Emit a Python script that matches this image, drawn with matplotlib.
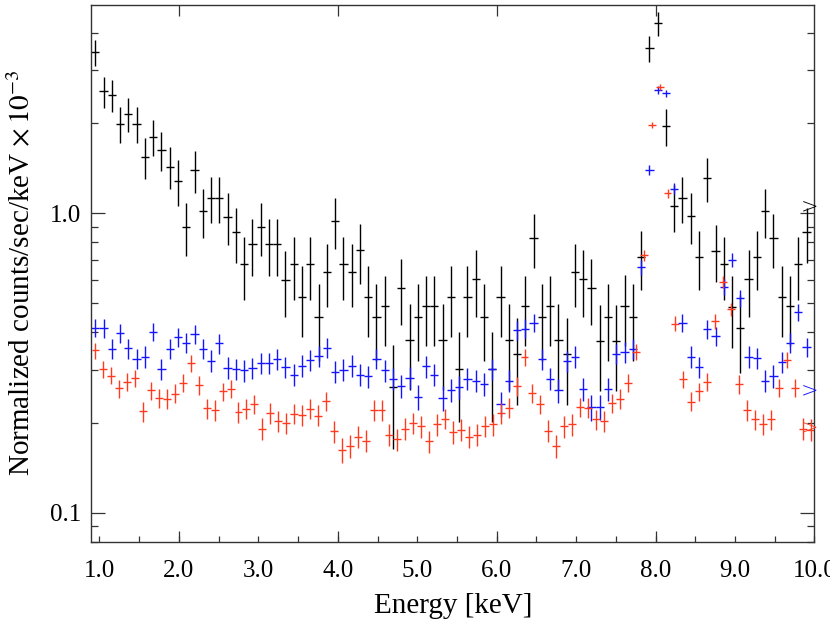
import numpy as np
import matplotlib
matplotlib.use("Agg")
import matplotlib.pyplot as plt
from matplotlib.ticker import FixedLocator, NullFormatter, LogLocator

plt.rcParams['font.family'] = ['Liberation Serif', 'DejaVu Serif']
plt.rcParams['mathtext.fontset'] = 'stix'

# ---------------- data ----------------
# black / blue spectra share one energy grid, red has its own (0.1 keV bins)
bb_start, bb_step = 0.947, 0.1041
red_start, red_step = 0.95, 0.100

black_vals = [3.45, 2.55, 2.48, 1.99, 2.14, 1.99, 1.54, 1.80, 1.62, 1.43, 1.28, 0.90, 1.39, 1.015, 1.125,
              1.125, 0.975, 0.864, 0.675, 0.788, 0.90, 0.788, 0.788, 0.600, 0.675, 0.525, 0.675, 0.45, 0.638,
              0.940, 0.675, 0.638, 0.752, 0.526, 0.451, 0.489, 0.263, 0.564, 0.376, 0.451, 0.489, 0.489, 0.376, 0.526,
              0.301, 0.526, 0.601, 0.451, 0.301, 0.526, 0.376, 0.338, 0.489, 0.827, 0.451, 0.489, 0.376, 0.338,
              0.638, 0.601, 0.564, 0.375, 0.451, 0.375, 0.490, 0.451, 0.713, 3.56, 4.31, 1.95, 1.053, 1.125, 0.977,
              0.714, 1.312, 0.750, 0.675, 0.486, 0.4125, 0.601, 0.714, 1.015, 0.827, 0.525, 0.489, 0.675, 0.864]
black_err = [0.35, 0.30, 0.30, 0.27, 0.28, 0.27, 0.24, 0.25, 0.24, 0.23, 0.22, 0.18, 0.22, 0.19, 0.20,
             0.20, 0.19, 0.18, 0.16, 0.17, 0.18, 0.17, 0.17, 0.15, 0.16, 0.14, 0.16, 0.13, 0.15,
             0.18, 0.16, 0.15, 0.17, 0.14, 0.13, 0.13, 0.10, 0.14, 0.12, 0.13, 0.13, 0.13, 0.12, 0.14,
             0.10, 0.14, 0.15, 0.13, 0.10, 0.14, 0.12, 0.11, 0.13, 0.17, 0.13, 0.13, 0.12, 0.11,
             0.15, 0.15, 0.14, 0.12, 0.13, 0.12, 0.13, 0.13, 0.16, 0.36, 0.39, 0.27, 0.19, 0.20, 0.19,
             0.16, 0.22, 0.16, 0.16, 0.13, 0.12, 0.15, 0.16, 0.19, 0.17, 0.14, 0.13, 0.16, 0.18]

blue_vals = [0.415, 0.413, 0.352, 0.399, 0.354, 0.327, 0.332, 0.402, 0.302, 0.352, 0.386, 0.370, 0.394, 0.352, 0.322,
             0.368, 0.305, 0.302, 0.299, 0.304, 0.316, 0.316, 0.326, 0.306, 0.289, 0.310, 0.323, 0.334, 0.356,
             0.296, 0.300, 0.310, 0.289, 0.285, 0.327, 0.299, 0.280, 0.265, 0.282, 0.244, 0.308, 0.289, 0.242, 0.257,
             0.263, 0.280, 0.276, 0.269, 0.302, 0.231, 0.276, 0.406, 0.412, 0.431, 0.325, 0.280, 0.256, 0.321,
             0.332, 0.259, 0.225, 0.226, 0.259, 0.340, 0.344, 0.353, 0.661, 1.393, 2.578, 2.513, 1.209, 0.430, 0.332,
             0.306, 0.410, 0.389, 0.567, 0.697, 0.521, 0.332, 0.328, 0.276, 0.286, 0.319, 0.369, 0.468, 0.357]
blue_err = [0.030, 0.030, 0.027, 0.029, 0.027, 0.026, 0.027, 0.029, 0.025, 0.027, 0.029, 0.028, 0.029, 0.027, 0.026,
            0.028, 0.025, 0.025, 0.025, 0.025, 0.026, 0.026, 0.026, 0.025, 0.025, 0.026, 0.026, 0.027, 0.027,
            0.025, 0.025, 0.026, 0.025, 0.025, 0.026, 0.025, 0.024, 0.024, 0.024, 0.023, 0.026, 0.025, 0.023, 0.023,
            0.024, 0.024, 0.024, 0.024, 0.025, 0.022, 0.024, 0.029, 0.030, 0.030, 0.026, 0.024, 0.023, 0.026,
            0.027, 0.023, 0.022, 0.022, 0.023, 0.027, 0.027, 0.027, 0.037, 0.054, 0.074, 0.073, 0.050, 0.030, 0.027,
            0.025, 0.029, 0.029, 0.035, 0.038, 0.033, 0.027, 0.026, 0.024, 0.025, 0.026, 0.028, 0.031, 0.027]

red_vals = [0.348, 0.301, 0.287, 0.260, 0.274, 0.281, 0.218, 0.256, 0.241, 0.240, 0.250, 0.272, 0.316, 0.267, 0.223,
            0.220, 0.254, 0.259, 0.217, 0.222, 0.231, 0.191, 0.215, 0.202, 0.199, 0.214, 0.212, 0.222, 0.211, 0.236,
            0.187, 0.162, 0.167, 0.179, 0.174, 0.220, 0.220, 0.182, 0.176, 0.191, 0.199, 0.194, 0.173, 0.197, 0.206,
            0.186, 0.189, 0.179, 0.182, 0.195, 0.197, 0.215, 0.224, 0.265, 0.331, 0.251, 0.231, 0.188, 0.167, 0.194,
            0.197, 0.225, 0.224, 0.205, 0.202, 0.233, 0.240, 0.271, 0.344, 0.724, 1.974, 2.633, 1.164, 0.428, 0.279, 0.235,
            0.254, 0.274, 0.435, 0.589, 0.478, 0.269, 0.220, 0.205, 0.198, 0.205, 0.261, 0.324, 0.261, 0.191, 0.189]
red_err = [0.021, 0.020, 0.019, 0.018, 0.019, 0.019, 0.017, 0.018, 0.018, 0.018, 0.018, 0.019, 0.020, 0.019, 0.017,
           0.017, 0.018, 0.018, 0.017, 0.017, 0.017, 0.016, 0.017, 0.016, 0.016, 0.017, 0.017, 0.017, 0.017, 0.017,
           0.016, 0.015, 0.015, 0.015, 0.015, 0.017, 0.017, 0.015, 0.015, 0.016, 0.016, 0.016, 0.015, 0.016, 0.016,
           0.016, 0.016, 0.015, 0.015, 0.016, 0.016, 0.017, 0.017, 0.019, 0.021, 0.018, 0.017, 0.016, 0.015, 0.016,
           0.016, 0.017, 0.017, 0.016, 0.016, 0.017, 0.018, 0.019, 0.021, 0.031, 0.050, 0.058, 0.039, 0.024, 0.019, 0.017,
           0.018, 0.019, 0.024, 0.028, 0.025, 0.019, 0.017, 0.016, 0.016, 0.016, 0.018, 0.020, 0.018, 0.016, 0.016]

# off-scale arrows at the right edge
arrow_x = 9.935
arrow_vals = [1.045, 0.255, 0.191]

x_tick_vals = [1.0, 2.0, 3.0, 4.0, 5.0, 6.0, 7.0, 8.0, 9.0, 10.0]
x_tick_labels = ['1.0', '2.0', '3.0', '4.0', '5.0', '6.0', '7.0', '8.0', '9.0', '10.0']
x_long_ticks = [2.0, 4.0, 6.0, 8.0]
y_tick_vals = [0.1, 1.0]
y_tick_labels = ['0.1', '1.0']

BLACK = '#000000'
BLUE = '#1414ff'
RED = '#ff3a1e'

# ---------------- figure ----------------
fig = plt.figure(figsize=(8.3, 6.23), dpi=100)
ax = fig.add_axes([0.1096, 0.1305, 0.8717, 0.862])

e_bb = bb_start + bb_step * np.arange(len(black_vals))
e_red = red_start + red_step * np.arange(len(red_vals))

ax.errorbar(e_bb, black_vals, yerr=black_err, xerr=bb_step / 2, fmt='none',
            ecolor=BLACK, elinewidth=1.0, capsize=0)
ax.errorbar(e_bb, blue_vals, yerr=blue_err, xerr=bb_step / 2, fmt='none',
            ecolor=BLUE, elinewidth=1.0, capsize=0)
ax.errorbar(e_red, red_vals, yerr=red_err, xerr=red_step / 2, fmt='none',
            ecolor=RED, elinewidth=1.0, capsize=0)

for v, c in zip(arrow_vals, [BLACK, BLUE, RED]):
    ax.text(arrow_x, v, '>', color=c, fontsize=15, ha='center', va='center',
            family='DejaVu Sans', fontweight='light')

ax.set_yscale('log')
ax.set_xlim(0.893, 10.0)
ax.set_ylim(0.080, 4.97)

ax.xaxis.set_major_locator(FixedLocator(x_tick_vals))
ax.set_xticklabels(x_tick_labels)
ax.xaxis.set_minor_locator(FixedLocator(np.arange(1.5, 10.0, 1.0)))
ax.yaxis.set_major_locator(FixedLocator(y_tick_vals))
ax.set_yticklabels(y_tick_labels)
ax.yaxis.set_minor_locator(LogLocator(base=10, subs=np.arange(2, 10)))
ax.yaxis.set_minor_formatter(NullFormatter())

tick_col = '#333333'
ax.tick_params(axis='x', which='both', direction='in', top=True, bottom=True,
               length=4.0, width=0.9, color=tick_col, labelsize=18, pad=13)
ax.tick_params(axis='y', which='major', direction='in', left=True, right=True,
               length=10, width=0.9, color=tick_col, labelsize=18, pad=7)
ax.tick_params(axis='y', which='minor', direction='in', left=True, right=True,
               length=5, width=0.9, color=tick_col)

# longer ticks at every second keV (top and bottom)
ax2 = ax.twiny()
ax2.set_xlim(ax.get_xlim())
ax2.xaxis.set_major_locator(FixedLocator(x_long_ticks))
ax2.xaxis.set_minor_locator(FixedLocator([]))
ax2.tick_params(axis='x', which='major', direction='in', top=True, bottom=True,
                labeltop=False, labelbottom=False, length=7.7, width=0.9, color=tick_col)
for s in ax2.spines.values():
    s.set_visible(False)

for s in ax.spines.values():
    s.set_color(tick_col)
    s.set_linewidth(1.0)

ax.set_xlabel('Energy [keV]', fontsize=21, labelpad=8)
ax.set_ylabel(r'Normalized counts/sec/keV $\times\,10^{-3}$', fontsize=21, labelpad=10)

fig.savefig('out.png', dpi=100)
